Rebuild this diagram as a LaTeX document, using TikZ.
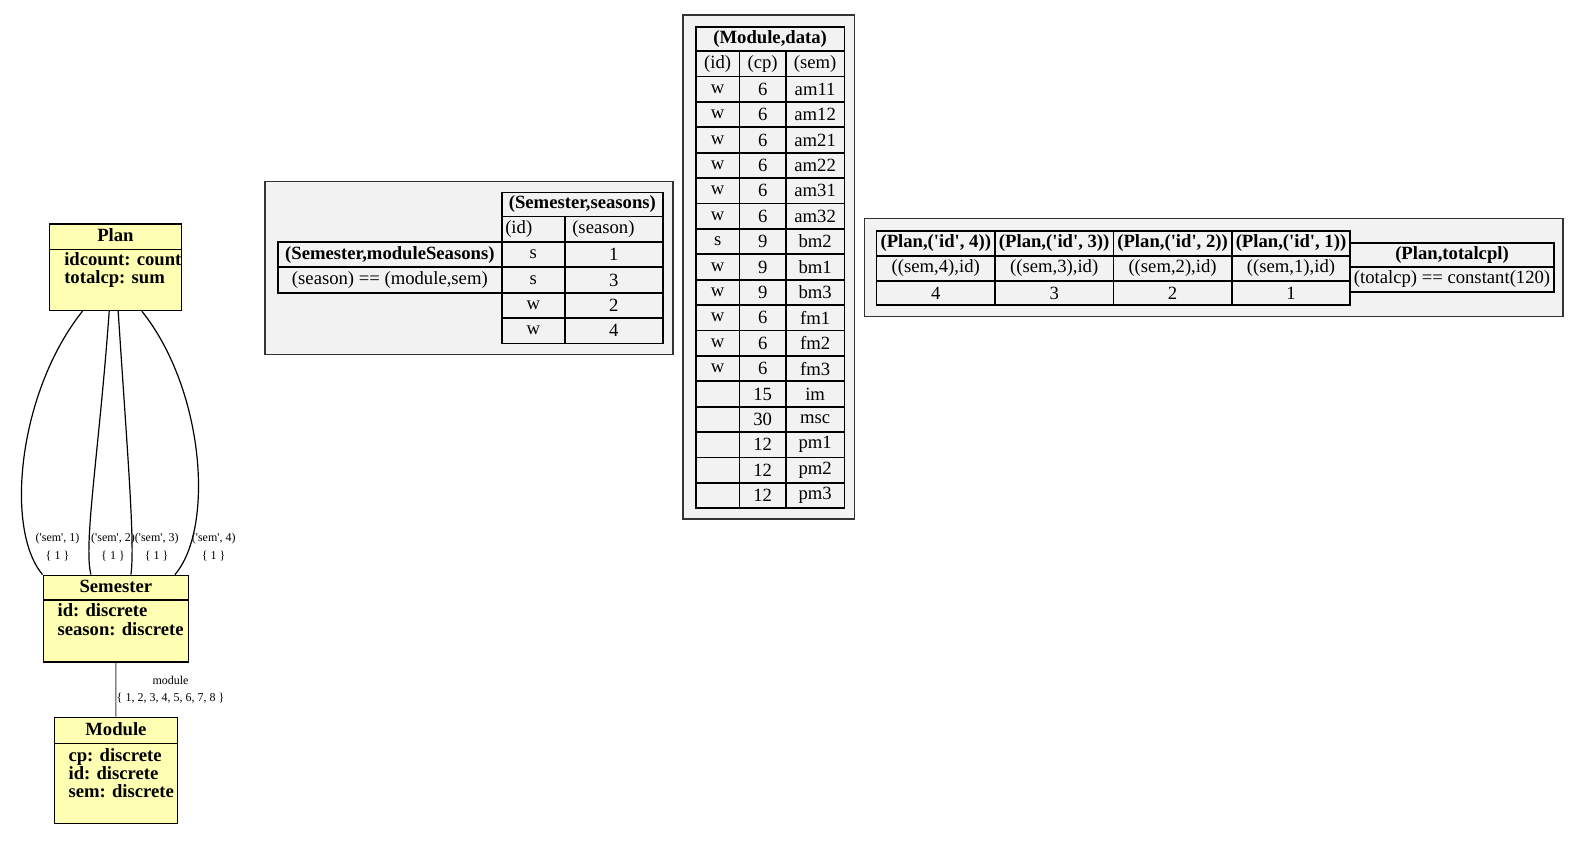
\documentclass[tikz,border=0pt]{standalone}
\usepackage{fontspec}
\setmainfont{Liberation Serif}
\usetikzlibrary{positioning, calc}
\definecolor{classyellow}{HTML}{FFFFB4}
\definecolor{clustergrey}{HTML}{F2F2F2}

% x, y, width, height (all in px), name, text
\newcommand{\tcell}[6]{%
    \node[tcell, minimum width=#3*0.75pt, minimum height=#4*0.75pt] (#5) at (#1,#2) {#6};}
\newcommand{\sq}{\textquotesingle}

\begin{document}
\begin{tikzpicture}[
    x=0.75pt, y=-0.75pt,
    every node/.style={inner sep=0pt},
    classbox/.style={draw=black, fill=classyellow, line width=1.2pt},
    classtitle/.style={font=\fontsize{14}{16}\selectfont\bfseries},
    attrs/.style={font=\fontsize{14}{13.95}\selectfont\bfseries, align=left, anchor=west},
    cluster/.style={draw=black!80, fill=clustergrey, line width=0.9pt},
    tcell/.style={draw=black, line width=1.3pt, anchor=north west,
        font=\fontsize{14}{16}\selectfont},
    edgelabel/.style={font=\fontsize{9}{13}\selectfont, align=center}]
    \useasboundingbox (0,0) rectangle (1580,849);

    % classes
    \node[classbox, minimum width=99pt, minimum height=65pt] (plan) at (115.4,267.05) {};
    \node[classbox, minimum width=108.8pt, minimum height=65pt] (semester) at (115.85,618.7) {};
    \node[classbox, minimum width=92.25pt, minimum height=79.4pt] (module) at (115.9,770.4) {};

    \coordinate (plan-div) at (0,249.3);
    \coordinate (semester-div) at (0,600);
    \coordinate (module-div) at (0,743.3);
    \draw[line width=1.2pt] (plan.west |- plan-div) -- (plan.east |- plan-div);
    \draw[line width=1.2pt] (semester.west |- semester-div) -- (semester.east |- semester-div);
    \draw[line width=1.2pt] (module.west |- module-div) -- (module.east |- module-div);

    \node[classtitle] (plan-title) at (115.4,235) {Plan};
    \node[classtitle] (semester-title) at (115.85,586.7) {Semester};
    \node[classtitle] (module-title) at (115.9,729) {Module};

    \node[attrs] (plan-attrs) at (64,270) {idcount: count\\totalcp: sum};
    \node[attrs] (semester-attrs) at (57.3,619.9) {id: discrete\\season: discrete};
    \node[attrs, font=\fontsize{14}{13.7}\selectfont\bfseries] (module-attrs) at (68.3,773.3)
        {cp: discrete\\id: discrete\\sem: discrete};

    % edges Plan -> Semester
    \draw[black, line width=0.9pt] ($(plan.south west)+(33.9,0)$)
        .. controls +(-64,80) and +(-38.3,-45.4) .. (semester.north west);
    \draw[black, line width=0.9pt] ($(plan.south west)+(60.6,0)$)
        .. controls +(-10,139.6) and +(-7.7,-30.4) .. ($(semester.north west)+(48.4,0)$);
    \draw[black, line width=0.9pt] ($(plan.south west)+(69.6,0)$)
        .. controls +(9,139.6) and +(4.3,-30.4) .. ($(semester.north west)+(88.4,0)$);
    \draw[black, line width=0.9pt] ($(plan.south west)+(93.3,0)$)
        .. controls +(63.3,79.6) and +(39.3,-45.4) .. ($(semester.north west)+(132.4,0)$);
    \draw[black!75, line width=0.9pt] (semester) -- (module);

    \begin{scope}[every node/.style={edgelabel}]
        \node (lbl-sem1) at (57.5,547) {(\sq sem\sq, 1)\\\{ 1 \}};
        \node (lbl-sem2) at (113,547) {(\sq sem\sq, 2)\\\{ 1 \}};
        \node (lbl-sem3) at (156.7,547) {(\sq sem\sq, 3)\\\{ 1 \}};
        \node (lbl-sem4) at (213.7,547) {(\sq sem\sq, 4)\\\{ 1 \}};
        \node (lbl-module) at (170.5,689.5) {module\\\{ 1, 2, 3, 4, 5, 6, 7, 8 \}};
    \end{scope}

    % constraint clusters
    \draw[cluster] (265,181.4) rectangle (673,354.7);
    \draw[cluster] (683,15) rectangle (854.5,519);
    \draw[cluster] (864.6,218.7) rectangle (1563,316.4);

    % Semester tables
    \tcell{277}{241}{224}{25.4}{modseas-head}{\textbf{(Semester,moduleSeasons)}}
    \tcell{277}{266.4}{224}{25.4}{modseas-rule}{(season) == (module,sem)}
    \tcell{501}{191.5}{161}{24.1}{seasons-head}{\textbf{(Semester,seasons)}}
    \tcell{501}{215.6}{63}{25.4}{seasons-id}{}
    \tcell{564}{215.6}{98}{25.4}{seasons-season}{}
    \node[right=3pt of seasons-id.west, font=\fontsize{14}{16}\selectfont] {(id)};
    \node[right=6pt of seasons-season.west, font=\fontsize{14}{16}\selectfont] {(season)};
    \foreach \sid/\sval [count=\i] in {s/1, s/3, w/2, w/4} {
        \pgfmathsetmacro\ry{241+(\i-1)*25.4}
        \tcell{501}{\ry}{63}{25.4}{seasons-id-\i}{\sid}
        \tcell{564}{\ry}{98}{25.4}{seasons-val-\i}{\sval}
    }

    % Module data
    \tcell{695}{26.2}{148.5}{24.2}{data-head}{\textbf{(Module,data)}}
    \tcell{695}{50.4}{43.6}{25.2}{data-id}{(id)}
    \tcell{738.6}{50.4}{46.4}{25.2}{data-cp}{(cp)}
    \tcell{785}{50.4}{58.5}{25.2}{data-sem}{(sem)}
    \foreach \mid/\mcp/\msem [count=\i] in {w/6/am11, w/6/am12, w/6/am21, w/6/am22,
        w/6/am31, w/6/am32, s/9/bm2, w/9/bm1, w/9/bm3, w/6/fm1, w/6/fm2, w/6/fm3,
        {}/15/im, {}/30/msc, {}/12/pm1, {}/12/pm2, {}/12/pm3} {
        \pgfmathsetmacro\ry{75.6+(\i-1)*25.4}
        \tcell{695}{\ry}{43.6}{25.4}{data-id-\i}{\mid}
        \tcell{738.6}{\ry}{46.4}{25.4}{data-cp-\i}{\mcp}
        \tcell{785}{\ry}{58.5}{25.4}{data-sem-\i}{\msem}
    }

    % Plan tables
    \foreach \k [count=\j] in {4,3,2,1} {
        \pgfmathsetmacro\rx{875.7+(\j-1)*118.4}
        \tcell{\rx}{229.8}{118.4}{25.2}{planid-\k-head}{\textbf{(Plan,(\sq id\sq, \k))}}
        \tcell{\rx}{255}{118.4}{25}{planid-\k-path}{((sem,\k),id)}
        \tcell{\rx}{280}{118.4}{24.3}{planid-\k-val}{\k}
    }
    \tcell{1349.3}{241.8}{203.7}{24.2}{total-head}{\textbf{(Plan,totalcpl)}}
    \tcell{1349.3}{266}{203.7}{25}{total-rule}{(totalcp) == constant(120)}
\end{tikzpicture}
\end{document}
